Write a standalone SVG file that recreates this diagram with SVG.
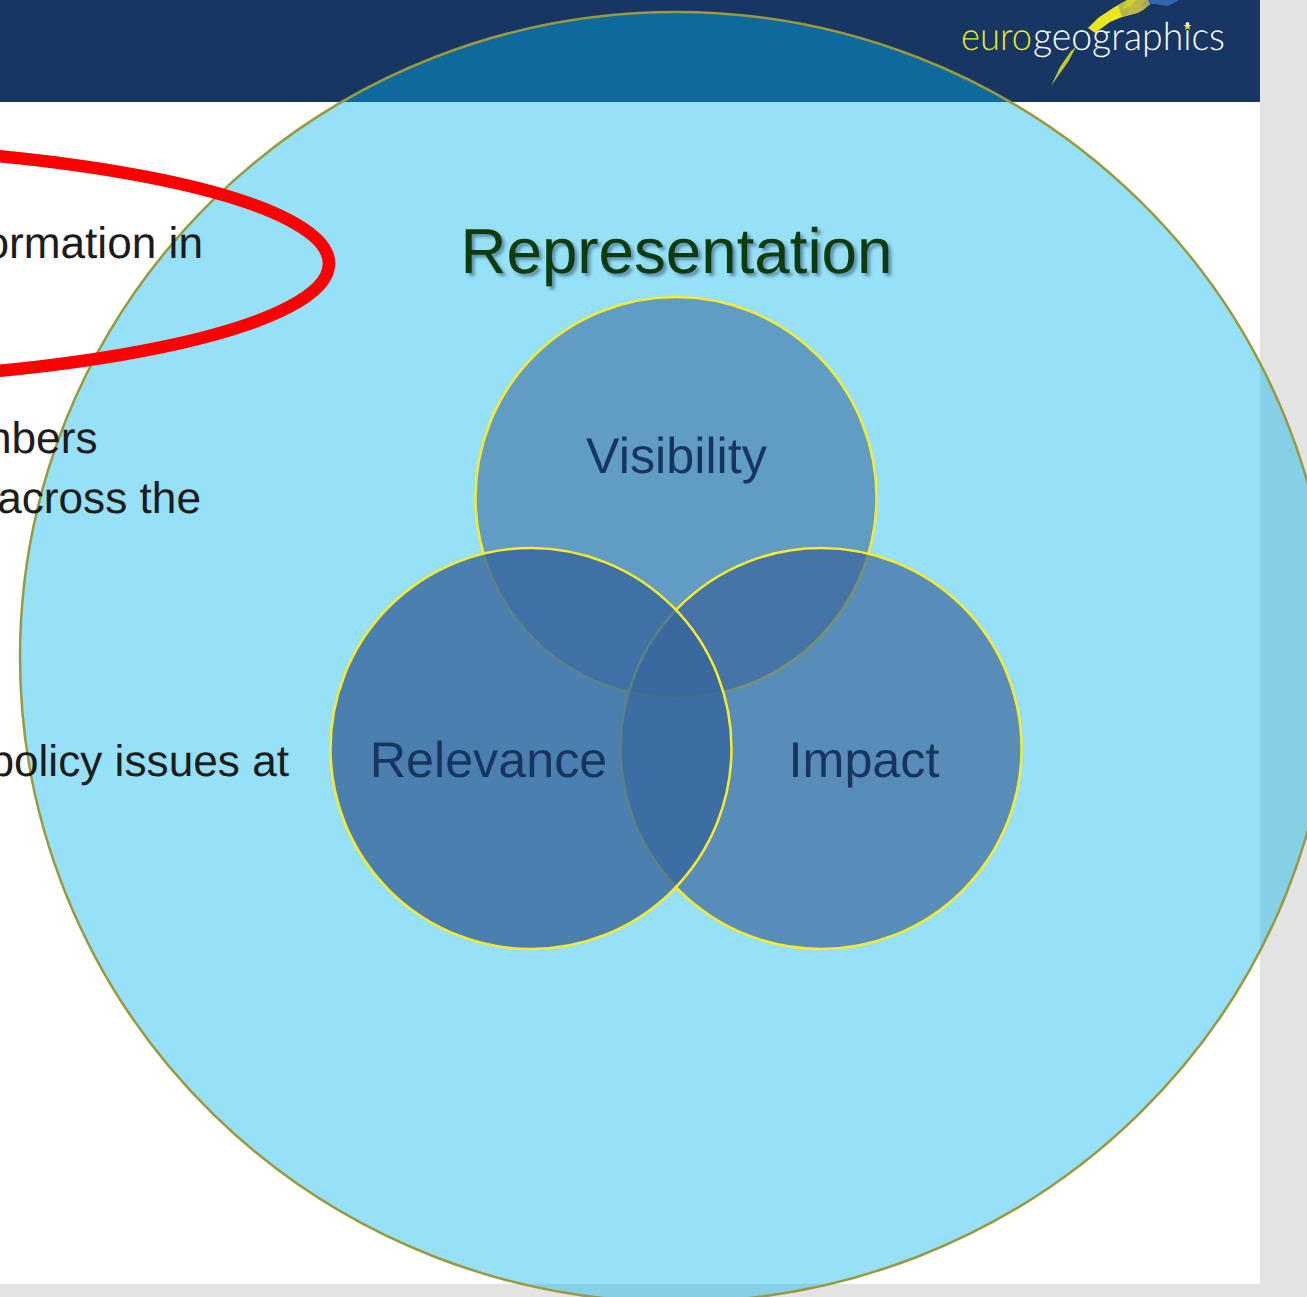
<svg xmlns="http://www.w3.org/2000/svg" width="1307" height="1297" viewBox="0 0 1307 1297">
  <defs>
    <filter id="soft" x="-5%" y="-20%" width="110%" height="150%">
      <feDropShadow dx="3" dy="3" stdDeviation="1.8" flood-color="#1f3f5f" flood-opacity="0.5"/>
    </filter>
  </defs>
  <style>
    text { font-family: "Liberation Sans", Arial, sans-serif; text-rendering: geometricPrecision; }
    .body { font-size: 44.2px; fill: #1c1c1c; text-anchor: end; }
    .venn { stroke: #f7ec27; stroke-width: 2.5; }
    .label { font-size: 50.3px; fill: #17365f; text-anchor: middle; }
    .logo { font-family: "Lato", "Open Sans", sans-serif; font-weight: 300; font-size: 39px; }
  </style>
  <rect id="page" width="1307" height="1297" fill="#e3e3e3"/>
  <rect id="slide" width="1260" height="1284" fill="#ffffff"/>
  <rect id="header" width="1260" height="102" fill="#183664"/>
  <g id="logo">
    <polygon points="1088,28 1098,18 1113,8 1127,0 1162,0 1150,4 1143,10 1137,13 1122,17 1110,22 1095,33" fill="#e9e71e"/>
    <polygon points="1118,5 1127,0 1162,0 1150,4 1143,10 1137,13 1122,17" fill="#bab64a"/>
    <polygon points="1127,0 1136,0 1131,6 1122,9" fill="#d1cd36"/>
    <polygon points="1145,0 1152,0 1148,5 1140,7" fill="#a9a85a"/>
    <polygon points="1148,0 1179,0 1168,6 1155,4 1150,4" fill="#3166b4"/>
    <polygon points="1076,47 1068,62 1051,86 1060,67 1071,51" fill="#c4c82c"/>
    <polygon points="1187.5,22 1188.6,25 1191.5,25 1189.2,27 1190,30 1187.5,28.2 1185,30 1185.8,27 1183.5,25 1186.4,25" fill="#e8e81e"/>
    <text class="logo" x="961" y="50" textLength="71" lengthAdjust="spacingAndGlyphs" fill="#e8e81e">euro</text>
    <text class="logo" x="1033" y="50" textLength="192" lengthAdjust="spacingAndGlyphs" fill="#ffffff">geographics</text>
  </g>
  <g id="representation">
    <ellipse cx="676" cy="657" rx="656" ry="645" fill="#00b4ef" fill-opacity="0.41" stroke="#9a9a3c" stroke-width="2.5"/>
    <text x="676.5" y="273" font-size="63.7" fill="#0a3a08" text-anchor="middle" filter="url(#soft)">Representation</text>
  </g>
  <g id="visibility">
    <circle class="venn" cx="676" cy="497.5" r="200.5" fill="#37649b" fill-opacity="0.55"/>
    <text class="label" x="676.5" y="473">Visibility</text>
  </g>
  <g id="impact">
    <circle class="venn" cx="821" cy="748.5" r="200.5" fill="#375f96" fill-opacity="0.65"/>
    <text class="label" x="864" y="777">Impact</text>
  </g>
  <g id="relevance">
    <circle class="venn" cx="531" cy="748.5" r="200.5" fill="#37679d" fill-opacity="0.8"/>
    <text class="label" x="488.5" y="777">Relevance</text>
  </g>
  <g id="bullets">
    <text class="body" x="203" y="258">ormation in</text>
    <text class="body" x="97.5" y="453">nbers</text>
    <text class="body" x="201" y="513">across the</text>
    <text class="body" x="289" y="776">policy issues at</text>
  </g>
  <ellipse id="highlight" cx="-250" cy="263.5" rx="579" ry="119" fill="none" stroke="#ff0000" stroke-width="12.5"/>
</svg>
